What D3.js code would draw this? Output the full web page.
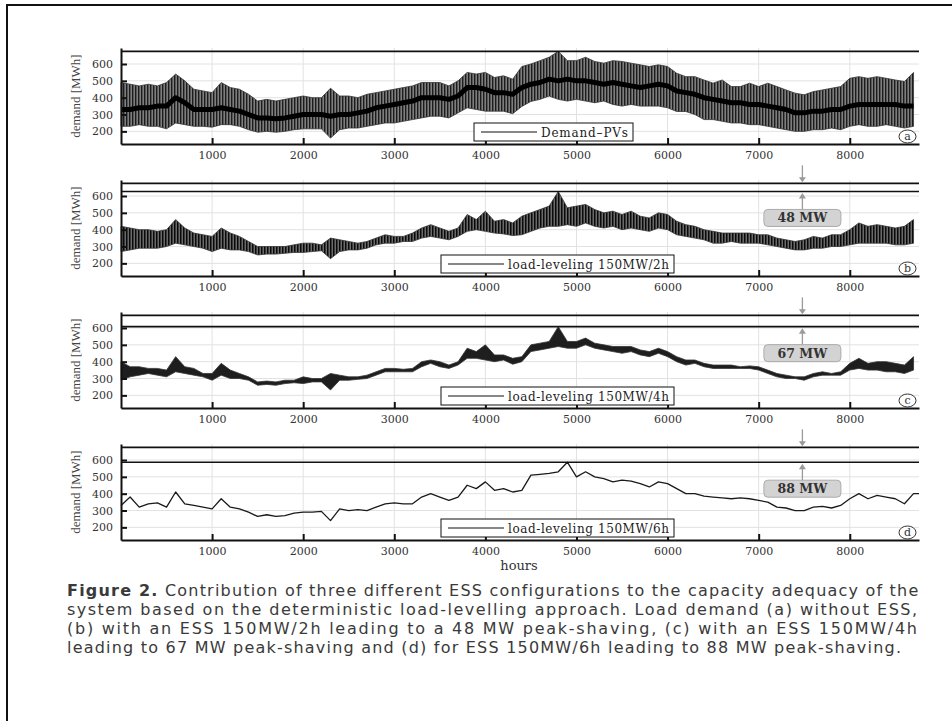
<!DOCTYPE html>
<html><head><meta charset="utf-8">
<script src="https://cdn.jsdelivr.net/npm/d3@7"></script>
<style>body{margin:0;background:#fff}svg{display:block}</style>
</head><body>
<svg id="chart" width="952" height="721"></svg>
<script>
// ---------- data (one sample every 100 h) ----------
const sampleHours = [0,100,200,300,400,500,600,700,800,900,
1000,1100,1200,1300,1400,1500,1600,1700,1800,1900,
2000,2100,2200,2300,2400,2500,2600,2700,2800,2900,
3000,3100,3200,3300,3400,3500,3600,3700,3800,3900,
4000,4100,4200,4300,4400,4500,4600,4700,4800,4900,
5000,5100,5200,5300,5400,5500,5600,5700,5800,5900,
6000,6100,6200,6300,6400,6500,6600,6700,6800,6900,
7000,7100,7200,7300,7400,7500,7600,7700,7800,7900,
8000,8100,8200,8300,8400,8500,8600,8700];

// (a) Demand-PVs : daily low / high / dense core
const aLow = [230,230,240,230,230,215,250,240,230,230,
225,240,240,230,210,195,200,195,200,210,
215,215,215,160,210,220,220,230,240,250,
250,260,270,280,290,290,280,310,340,330,
320,320,320,305,348,378,390,410,390,380,
390,380,370,380,360,350,360,350,350,350,
340,318,318,300,270,270,260,250,250,240,
240,230,220,210,200,200,210,210,220,210,
230,240,230,230,240,230,220,230];
const aHigh = [490,480,470,480,470,490,540,500,450,440,
430,490,460,450,420,380,390,380,390,400,
410,400,400,456,410,410,400,420,430,440,
450,460,470,490,490,490,470,500,550,540,
550,520,530,510,585,600,620,640,675,620,
620,640,615,605,620,615,605,595,585,595,
585,545,525,525,505,486,505,466,466,486,
466,486,466,446,427,417,436,446,456,466,
515,525,515,525,515,505,496,550];
const aCore = [330,330,340,340,350,350,400,370,330,330,
330,340,330,320,300,280,280,275,280,290,
300,300,300,290,300,300,310,320,340,350,
360,370,380,400,400,400,390,410,460,460,
450,430,430,420,460,480,490,510,500,510,
500,500,490,480,490,480,470,460,470,480,
470,440,430,420,400,390,380,370,370,360,
360,350,340,330,310,310,320,320,330,330,
350,360,360,360,360,360,350,350];

// (b) load-leveling 150MW/2h
const bLow = [270,280,290,290,290,300,320,310,300,290,
270,290,280,280,270,250,255,255,260,265,
265,270,275,228,270,280,280,290,310,320,
320,330,330,350,360,350,340,360,390,400,
390,380,375,365,370,390,410,420,420,430,
420,440,420,410,420,400,410,400,390,410,
400,370,360,350,340,320,320,330,320,320,
320,310,300,290,280,280,290,290,300,300,
310,320,320,320,320,310,310,320];
const bHigh = [420,410,400,400,390,400,460,410,380,370,
360,410,380,360,330,300,300,300,300,310,
320,320,310,350,340,330,320,330,350,370,
360,360,380,410,430,410,390,410,490,460,
510,450,460,440,480,500,520,540,627,530,
540,550,520,500,510,490,510,480,470,500,
490,450,430,420,400,390,380,380,380,380,
370,370,350,340,330,340,360,350,370,370,
400,440,420,430,420,410,420,460];

// (c) load-leveling 150MW/4h
const cLow = [290,310,320,330,320,310,340,330,320,310,
290,320,300,300,290,260,265,260,270,275,
270,280,280,232,290,290,295,300,320,340,
340,340,340,370,390,370,360,380,420,420,
410,400,410,385,400,460,470,480,490,480,
480,500,480,470,460,450,460,440,430,450,
430,400,380,390,370,360,360,360,360,360,
350,330,310,300,300,290,310,320,320,320,
350,360,350,350,340,340,330,350];
const cHigh = [400,370,370,360,360,350,430,370,360,330,
330,390,350,330,310,280,285,280,290,290,
310,300,300,330,320,310,310,320,340,360,
360,355,360,400,410,400,380,400,480,460,
500,440,440,420,430,500,510,520,608,520,
520,540,510,500,490,490,490,470,460,480,
460,430,410,410,390,380,380,380,370,375,
370,350,330,320,310,310,330,340,330,340,
390,420,390,400,400,390,380,430];

// (d) load-leveling 150MW/6h
const dValues = [330,380,320,340,345,320,410,340,330,320,
310,370,320,310,290,265,275,265,270,285,
290,290,295,240,310,300,305,300,320,340,
345,340,340,380,400,380,360,380,450,430,
470,420,430,410,420,510,515,520,530,587,
500,530,500,490,470,480,475,460,440,470,
460,430,400,400,385,380,375,370,375,370,
360,350,320,315,300,300,320,325,315,330,
370,400,370,390,380,370,340,400];

const xTickValues = [1000,2000,3000,4000,5000,6000,7000,8000];
const yTickValues = [200,300,400,500,600];
const legendLabels = ["Demand\u2013PVs","load-leveling 150MW/2h","load-leveling 150MW/4h","load-leveling 150MW/6h"];
const panelLetters = ["a","b","c","d"];
const originalPeak = 675;
const peakShaving = [0,48,67,88];
const shavingLabels = ["","48 MW","67 MW","88 MW"];
const captionBold = "Figure 2.";
const captionLines = [
 " Contribution of three different ESS configurations to the capacity adequacy of the",
 "system based on the deterministic load-levelling approach. Load demand (a) without ESS,",
 "(b) with an ESS 150MW/2h leading to a 48 MW peak-shaving, (c) with an ESS 150MW/4h",
 "leading to 67 MW peak-shaving and (d) for ESS 150MW/6h leading to 88 MW peak-shaving."
];

// ---------- drawing ----------
const svg = d3.select("#chart");
const defs = svg.append("defs");
function stripes(id, bg, fg, period, w){
  const p = defs.append("pattern").attr("id",id).attr("patternUnits","userSpaceOnUse")
    .attr("width",period).attr("height",20);
  p.append("rect").attr("width",period).attr("height",20).attr("fill",bg);
  p.append("rect").attr("width",w).attr("height",20).attr("fill",fg);
}
stripes("hatchA","#7e7e7e","#1c1c1c",3,1.4);
stripes("hatchB","#6a6a6a","#0a0a0a",3,1.5);

svg.append("rect").attr("x",7).attr("y",5).attr("width",1100).attr("height",900)
  .attr("fill","none").attr("stroke","#111").attr("stroke-width",2);

const x = d3.scaleLinear().domain([0,8760]).range([121,919]);
const panelTops = [48,180,312,444];
const panelH = 96;
const annotHour = 7480;
const serif = "DejaVu Serif";

const series = [
  {low:aLow, high:aHigh, core:aCore, fill:"url(#hatchA)", coreW:5},
  {low:bLow, high:bHigh, fill:"url(#hatchB)"},
  {low:cLow, high:cHigh, fill:"#1e1e1e"},
  {single:dValues}
];

function fitWidth(sel, target){
  const n = sel.node();
  const len = n.getComputedTextLength();
  const chars = n.textContent.length;
  sel.style("letter-spacing", ((target-len)/(chars-1))+"px");
}

series.forEach((s,i)=>{
  const top = panelTops[i], bottom = top+panelH;
  const y = d3.scaleLinear().domain([125,695]).range([bottom,top]);
  const g = svg.append("g");

  // grid
  g.append("g").selectAll("line").data(yTickValues).join("line")
    .attr("x1",x(0)).attr("x2",x(8760)).attr("y1",d=>y(d)).attr("y2",d=>y(d))
    .attr("stroke","#e2e2e2").attr("stroke-width",1);
  g.append("g").selectAll("line").data(xTickValues).join("line")
    .attr("x1",d=>x(d)).attr("x2",d=>x(d)).attr("y1",top).attr("y2",bottom)
    .attr("stroke","#e2e2e2").attr("stroke-width",1);

  // data
  if (s.single){
    const pts = sampleHours.map((t,k)=>[t,s.single[k]]);
    pts.push([8760, s.single[s.single.length-1]]);
    g.append("path").datum(pts)
      .attr("d", d3.line().x(d=>x(d[0])).y(d=>y(d[1])))
      .attr("fill","none").attr("stroke","#1a1a1a").attr("stroke-width",1.3)
      .attr("stroke-linejoin","round");
  } else {
    const rows = sampleHours.map((t,k)=>({t, lo:s.low[k], hi:s.high[k]}));
    g.append("path").datum(rows)
      .attr("d", d3.area().x(d=>x(d.t)).y0(d=>y(d.lo)).y1(d=>y(d.hi)))
      .attr("fill", s.fill).attr("stroke","#333").attr("stroke-width",0.8);
    if (s.core){
      g.append("path").datum(sampleHours.map((t,k)=>[t,s.core[k]]))
        .attr("d", d3.line().x(d=>x(d[0])).y(d=>y(d[1])))
        .attr("fill","none").attr("stroke","#000").attr("stroke-width",s.coreW)
        .attr("stroke-linejoin","round");
    }
  }

  // peak lines
  g.append("line").attr("x1",x(0)).attr("x2",x(8760))
    .attr("y1",y(originalPeak)).attr("y2",y(originalPeak))
    .attr("stroke","#111").attr("stroke-width",1.6);
  if (peakShaving[i] > 0){
    const py = y(originalPeak-peakShaving[i]);
    g.append("line").attr("x1",x(0)).attr("x2",x(8760))
      .attr("y1",py).attr("y2",py).attr("stroke","#111").attr("stroke-width",1.6);
    const ax = x(annotHour), ty = y(originalPeak);
    const gray = "#9a9a9a";
    g.append("line").attr("x1",ax).attr("x2",ax).attr("y1",ty-18).attr("y2",ty-5)
      .attr("stroke",gray).attr("stroke-width",1.3);
    g.append("path").attr("d",`M${ax-3.5},${ty-6}L${ax+3.5},${ty-6}L${ax},${ty-1}Z`).attr("fill",gray);
    g.append("line").attr("x1",ax).attr("x2",ax).attr("y1",py+18).attr("y2",py+6)
      .attr("stroke",gray).attr("stroke-width",1.3);
    g.append("path").attr("d",`M${ax-3.5},${py+7}L${ax+3.5},${py+7}L${ax},${py+1.5}Z`).attr("fill",gray);
    g.append("rect").attr("x",ax-38.5).attr("y",py+18).attr("width",77).attr("height",17)
      .attr("rx",4).attr("fill","#d3d3d3").attr("stroke","#ababab").attr("stroke-width",1);
    g.append("text").attr("x",ax).attr("y",py+31).attr("text-anchor","middle")
      .attr("font-family",serif).attr("font-weight","bold").attr("font-size",12.5)
      .attr("fill","#333").text(shavingLabels[i]);
  }

  // axes
  const xa = g.append("g").attr("transform",`translate(0,${bottom})`)
    .call(d3.axisBottom(x).tickValues(xTickValues).tickSizeInner(-6).tickSizeOuter(0).tickPadding(7).tickFormat(d3.format("d")));
  xa.attr("font-family",serif).attr("font-size",11);
  xa.select(".domain").attr("stroke","#111").attr("stroke-width",2);
  xa.selectAll(".tick line").attr("stroke","#111").attr("stroke-width",2);
  xa.selectAll("text").attr("fill","#333");

  const ya = g.append("g").attr("transform",`translate(${x(0)},0)`)
    .call(d3.axisLeft(y).tickValues(yTickValues).tickSizeInner(-6).tickSizeOuter(0).tickPadding(8));
  ya.attr("font-family",serif).attr("font-size",11);
  ya.select(".domain").attr("stroke","#111").attr("stroke-width",2);
  ya.selectAll(".tick line").attr("stroke","#111").attr("stroke-width",2);
  ya.selectAll("text").attr("fill","#333");

  // y label
  g.append("text").attr("transform",`translate(80,${(top+bottom)/2}) rotate(-90)`)
    .attr("text-anchor","middle").attr("font-family","Liberation Serif").attr("font-size",13)
    .attr("fill","#444").text("demand [MWh]");

  // legend
  const lx = i===0 ? 474 : 441, lw = i===0 ? 159 : 233;
  const lb = bottom-3, lt = lb-18;
  g.append("rect").attr("x",lx).attr("y",lt).attr("width",lw).attr("height",18)
    .attr("fill","#fff").attr("stroke","#111").attr("stroke-width",1);
  g.append("line").attr("x1",lx+7).attr("x2",lx+63).attr("y1",lt+9).attr("y2",lt+9)
    .attr("stroke","#111").attr("stroke-width",1.2);
  const lt2 = g.append("text").attr("x",lx+67).attr("y",lt+13.5)
    .attr("font-family",serif).attr("font-size",12).attr("fill","#222").text(legendLabels[i]);
  fitWidth(lt2, lw-72);

  // panel letter
  g.append("ellipse").attr("cx",907.5).attr("cy",bottom-7.5).attr("rx",8.5).attr("ry",6.5)
    .attr("fill","#fff").attr("stroke","#333").attr("stroke-width",1);
  g.append("text").attr("x",907.5).attr("y",bottom-4).attr("text-anchor","middle")
    .attr("font-family",serif).attr("font-size",11).attr("fill","#333").text(panelLetters[i]);
});

// x label
svg.append("text").attr("x",519).attr("y",570).attr("text-anchor","middle")
  .attr("font-family",serif).attr("font-size",13).attr("fill","#333").text("hours");

// caption
const capBase = [596,615,634,653];
const capEnd = [918,917,917,901];
captionLines.forEach((line,k)=>{
  const t = svg.append("text").attr("x",67).attr("y",capBase[k])
    .attr("font-family","DejaVu Sans").attr("font-size",16).attr("fill","#3a3a3a");
  if (k===0) t.append("tspan").attr("font-weight","bold").text(captionBold);
  t.append("tspan").text(line);
  fitWidth(t, capEnd[k]-67);
});
</script>
</body></html>
